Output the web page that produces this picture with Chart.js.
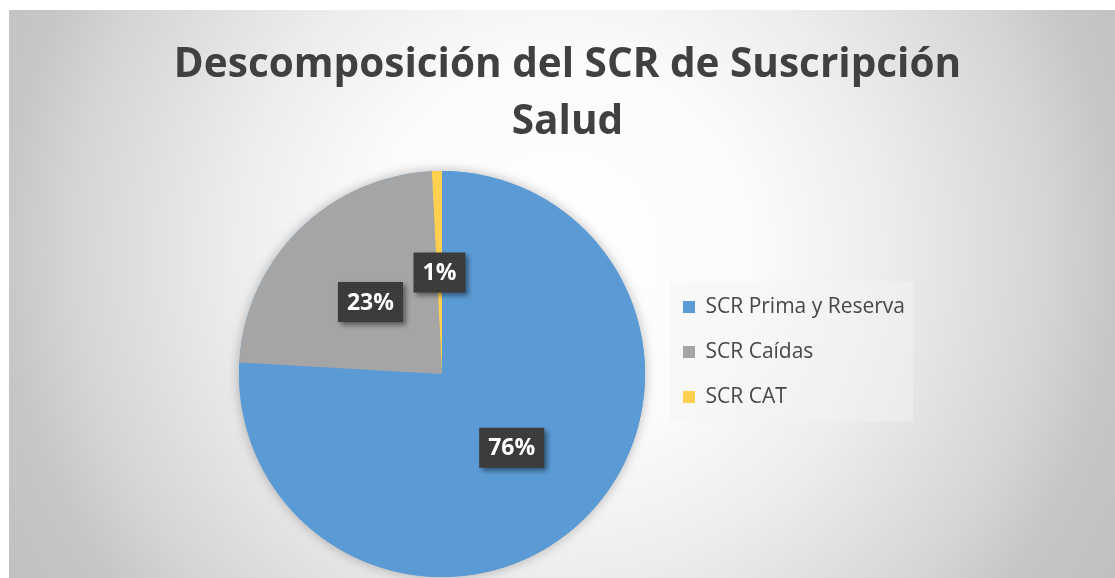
<!DOCTYPE html>
<html>
<head>
<meta charset="utf-8">
<script src="https://cdn.jsdelivr.net/npm/chart.js@4.4.0/dist/chart.umd.min.js"></script>
<style>
  body { margin: 0; background: #fff; }
  #wrap { position: absolute; left: 9px; top: 10px; width: 1106px; height: 568px; }
</style>
</head>
<body>
<div id="wrap"><canvas id="pie"></canvas></div>
<script>
// data
const categories = ['SCR Prima y Reserva', 'SCR Caídas', 'SCR CAT'];
const shares = [75.9, 23.3, 0.8];
const sliceColors = ['#5B9BD5', '#A5A5A5', '#FFD04F'];
const titleLines = ['Descomposición del SCR de Suscripción', 'Salud'];

// grey radial fill of the chart area + the lighter legend panel
const backgroundFill = {
  id: 'backgroundFill',
  beforeDraw(chart) {
    const ctx = chart.ctx;
    const g = ctx.createRadialGradient(551, 240, 0, 551, 240, 650);
    g.addColorStop(0, '#ffffff');
    g.addColorStop(0.3, '#fbfbfb');
    g.addColorStop(0.5, '#ededed');
    g.addColorStop(0.75, '#d5d5d5');
    g.addColorStop(0.86, '#c6c6c6');
    g.addColorStop(1, '#c0c0c0');
    ctx.save();
    ctx.fillStyle = g;
    ctx.fillRect(0, 0, chart.width, chart.height);

    const hb = chart.legend.legendHitBoxes;
    if (hb && hb.length) {
      const left = Math.min(...hb.map(b => b.left)) - 13;
      const right = Math.max(...hb.map(b => b.left + b.width)) + 8;
      const top = hb[0].top - 15;
      const last = hb[hb.length - 1];
      const bottom = last.top + last.height + 14;
      ctx.fillStyle = 'rgba(245,245,245,0.45)';
      ctx.fillRect(left, top, right - left, bottom - top);
    }
    ctx.restore();
  }
};

// soft shadow under the whole pie
const pieShadow = {
  id: 'pieShadow',
  beforeDatasetsDraw(chart) {
    const arc = chart.getDatasetMeta(0).data[0];
    if (!arc) return;
    const ctx = chart.ctx;
    ctx.save();
    ctx.shadowColor = 'rgba(0,0,0,0.28)';
    ctx.shadowBlur = 12;
    ctx.beginPath();
    ctx.arc(arc.x, arc.y, arc.outerRadius, 0, Math.PI * 2);
    ctx.fillStyle = sliceColors[0];
    ctx.fill();
    ctx.restore();
  }
};

// dark percent callouts
const dotPattern = (ctx) => {
  const c = document.createElement('canvas');
  c.width = 4; c.height = 4;
  const p = c.getContext('2d');
  p.fillStyle = '#3a3a3a';
  p.fillRect(0, 0, 4, 4);
  p.fillStyle = '#474747';
  p.fillRect(0, 0, 1, 1);
  p.fillRect(2, 2, 1, 1);
  return ctx.createPattern(c, 'repeat');
};

const percentLabels = {
  id: 'percentLabels',
  afterDatasetsDraw(chart) {
    const ctx = chart.ctx;
    const total = shares.reduce((a, b) => a + b, 0);
    const fill = dotPattern(ctx);
    ctx.save();
    ctx.font = 'bold 23px "Open Sans"';
    ctx.textAlign = 'center';
    ctx.textBaseline = 'middle';
    chart.getDatasetMeta(0).data.forEach((arc, i) => {
      const { x, y } = arc.getCenterPoint();
      const txt = Math.round(shares[i] / total * 100) + '%';
      const w = ctx.measureText(txt).width + 18;
      const h = 40;
      ctx.save();
      ctx.shadowColor = 'rgba(0,0,0,0.45)';
      ctx.shadowBlur = 5;
      ctx.shadowOffsetX = 3;
      ctx.shadowOffsetY = 3;
      ctx.fillStyle = fill;
      ctx.fillRect(x - w / 2, y - h / 2, w, h);
      ctx.restore();
      ctx.fillStyle = '#ffffff';
      ctx.fillText(txt, x, y + 1);
    });
    ctx.restore();
  }
};

// legend a little above the pie centre, title over the full width
const layoutTweaks = {
  id: 'layoutTweaks',
  afterLayout(chart) {
    chart.legend.top -= 22;
    chart.legend.bottom -= 22;
    const t = chart.titleBlock;
    t.left = 11;
    t.right = chart.width;
    t.width = t.right - t.left;
  }
};

const pieConfig = {
  type: 'pie',
  data: {
    labels: categories,
    datasets: [{
      data: shares,
      backgroundColor: sliceColors,
      borderWidth: 0,
    }],
  },
  options: {
    responsive: true,
    maintainAspectRatio: false,
    animation: false,
    radius: 203,
    layout: { padding: { top: 0, bottom: 1, left: 216, right: 200 } },
    plugins: {
      tooltip: { enabled: false },
      title: {
        display: true,
        text: titleLines,
        color: '#404040',
        font: { family: 'Open Sans', size: 40.5, weight: 'bold', lineHeight: '57px' },
        padding: { top: 27, bottom: 20 },
      },
      legend: {
        position: 'right',
        fullSize: false,
        labels: {
          color: '#474747',
          font: { family: 'Open Sans', size: 21 },
          boxWidth: 12,
          boxHeight: 12,
          padding: 24,
        },
      },
    },
  },
  plugins: [backgroundFill, pieShadow, percentLabels, layoutTweaks],
};

new Chart(document.getElementById('pie'), pieConfig);
</script>
</body>
</html>
